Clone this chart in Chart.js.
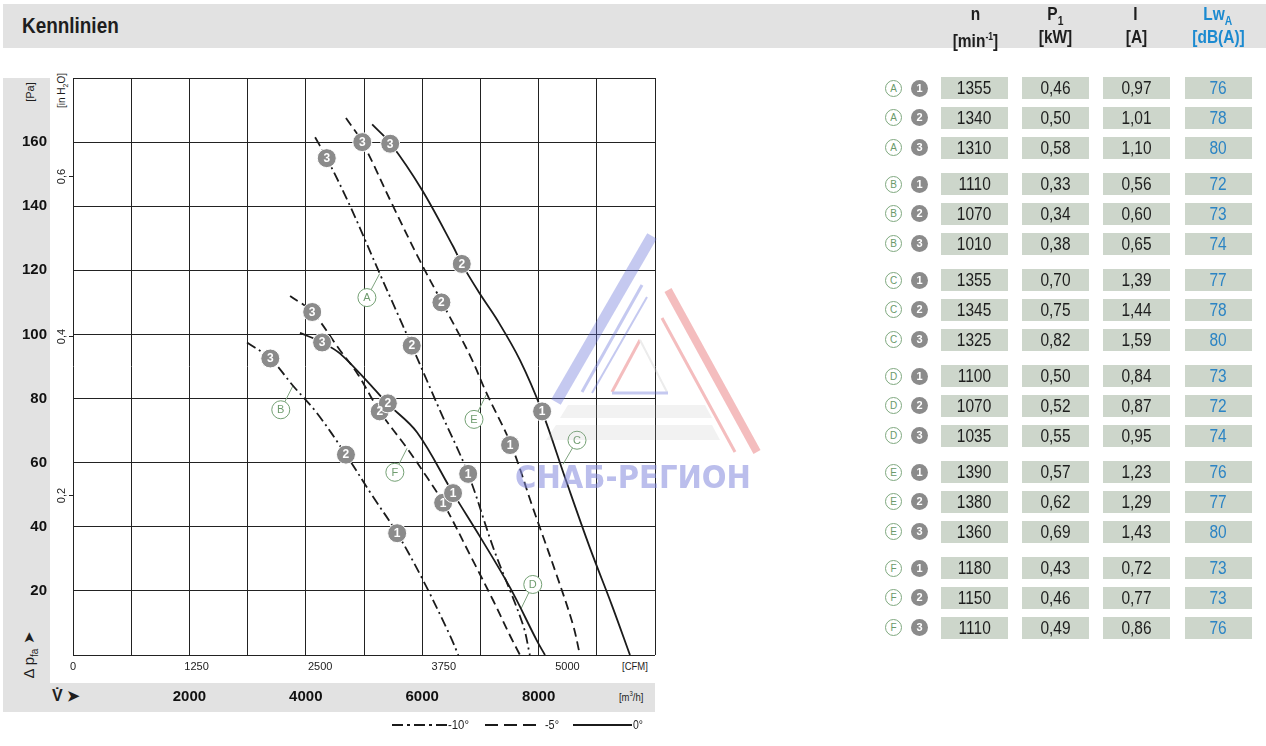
<!DOCTYPE html>
<html>
<head>
<meta charset="utf-8">
<script src="https://cdn.jsdelivr.net/npm/chart.js@4.4.1/dist/chart.umd.min.js"></script>
<style>
  body { margin: 0; width: 1266px; height: 746px; position: relative; overflow: hidden; background: #fff;
         font-family: "Liberation Sans", Arial, sans-serif; color: #1e1e1e; }
  .abs { position: absolute; }
  .band { background: #e2e2e2; }
  .rot { transform: rotate(-90deg); transform-origin: center; white-space: nowrap; }
  .nar { display: inline-block; transform: scaleX(0.86); transform-origin: center; }
  .hd { position: absolute; width: 80px; text-align: center; font-weight: bold; font-size: 18px; line-height: 20px; }
  .cell { position: absolute; width: 67px; height: 22px; line-height: 23px; background: #cdd6cb; text-align: center; font-size: 18px; }
  .lc { position: absolute; width: 15px; height: 15px; border: 1px solid #7fa87f; border-radius: 50%; color: #6a9a6a;
        font-size: 10px; line-height: 15px; text-align: center; background: #fff; }
  .nc { position: absolute; width: 17px; height: 17px; border-radius: 50%; background: #8b8b8b; color: #fff;
        font-size: 11px; font-weight: bold; line-height: 17px; text-align: center; }
  #chart { position: absolute; left: 0; top: 60px; }
</style>
</head>
<body>
<div class="abs band" style="left:3px;top:4px;width:1263px;height:44px"></div>
<div class="abs" style="left:22px;top:13px;font-size:22px;font-weight:bold"><span class="nar" style="transform-origin:left">Kennlinien</span></div>
<div class="abs band" style="left:3px;top:78px;width:47px;height:634px"></div>
<div class="abs band" style="left:3px;top:683px;width:652px;height:29px"></div>

<div class="abs rot" style="left:18px;top:86px;width:24px;font-size:11px;text-align:center">[Pa]</div>
<div class="abs rot" style="left:40px;top:84px;width:44px;font-size:10px;text-align:center">[in H<sub style="font-size:7px">2</sub>O]</div>
<div class="abs rot" style="left:4px;top:645px;width:52px;font-size:15px;text-align:center">&Delta; p<sub style="font-size:10px">fa</sub> &#x27A4;</div>
<div class="abs" style="left:52px;top:687px;font-size:16px;font-weight:bold">V&#x307; <span style="font-size:15px">&#x27A4;</span></div>
<div class="abs" style="left:620px;top:660px;font-size:11px"><span class="nar">[CFM]</span></div>
<div class="abs" style="left:617px;top:690px;font-size:11px"><span class="nar">[m<sup style="font-size:7px">3</sup>/h]</span></div>

<canvas id="chart" width="680" height="660"></canvas>

<svg class="abs" style="left:0;top:0" width="1266" height="746">
  <g opacity="0.36">
    <line x1="652" y1="236" x2="556" y2="402" stroke="#5f6bd6" stroke-width="11"/>
    <line x1="642" y1="285" x2="582" y2="392" stroke="#5f6bd6" stroke-width="3"/>
    <line x1="647" y1="297" x2="592" y2="393" stroke="#5f6bd6" stroke-width="2"/>
    <line x1="668" y1="290" x2="757" y2="452" stroke="#e0484c" stroke-width="8"/>
    <line x1="662" y1="318" x2="735" y2="452" stroke="#e0484c" stroke-width="3"/>
    <line x1="640" y1="340" x2="612" y2="392" stroke="#e0484c" stroke-width="3"/>
    <line x1="640" y1="340" x2="667" y2="392" stroke="#c9c9c9" stroke-width="2"/>
    <line x1="612" y1="393" x2="668" y2="393" stroke="#5f6bd6" stroke-width="3"/>
    <polygon points="568,405 705,405 712,418 560,418" fill="#b8b8b8" opacity="0.5"/>
    <polygon points="556,425 712,425 720,440 546,440" fill="#b8b8b8" opacity="0.5"/>
  </g>
  <text x="515" y="488" textLength="236" lengthAdjust="spacingAndGlyphs" font-family="DejaVu Sans" font-weight="bold"
        font-size="32" fill="#8389dc" opacity="0.55">СНАБ-РЕГИОН</text>
  <g stroke="#1b1b1b" stroke-width="2">
    <line x1="392" y1="725" x2="447" y2="725" stroke-dasharray="11,4,3,4"/>
    <line x1="485" y1="725" x2="542" y2="725" stroke-dasharray="13,6"/>
    <line x1="573" y1="725" x2="632" y2="725"/>
  </g>
  <g font-size="12" fill="#1e1e1e" font-family="Liberation Sans, Arial, sans-serif">
    <text x="448" y="729" textLength="21" lengthAdjust="spacingAndGlyphs">-10°</text>
    <text x="545" y="729" textLength="14" lengthAdjust="spacingAndGlyphs">-5°</text>
    <text x="633" y="729" textLength="10" lengthAdjust="spacingAndGlyphs">0°</text>
  </g>
</svg>

<div id="table"></div>

<script>
// axis ticks
const flowTicks = [2000, 4000, 6000, 8000];
const cfmTicks = [0, 1250, 2500, 3750, 5000];
const paTicks = [20, 40, 60, 80, 100, 120, 140, 160];
const inH2OTicks = [0.2, 0.4, 0.6];

// curves: volume flow [m3/h] and pressure [Pa]
// -10 deg (dash-dot)
const curveAFlow = [4160, 4360, 4750, 5270, 5820, 6300, 6790, 7230, 7730, 7850];
const curveAPa = [161.5, 155, 140.5, 119, 96.5, 76.5, 56.5, 33, 9.5, 0];
const curveBFlow = [2990, 3390, 3780, 4190, 4690, 5150, 5570, 6010, 6480, 6620];
const curveBPa = [97.5, 92.5, 84, 75.5, 62.5, 49.5, 38, 23.5, 6, 0];
// -5 deg (dashed)
const curveEFlow = [4690, 4970, 5500, 5960, 6340, 6820, 7110, 7530, 7900, 8280, 8590, 8710];
const curveEPa = [167.5, 160, 140, 123, 110, 93.5, 81.5, 65.5, 46, 26.5, 9.5, 0];
const curveFFlow = [3730, 4110, 4590, 4880, 5270, 5740, 6080, 6360, 6870, 7220, 7510, 7680];
const curveFPa = [112, 107, 95, 88, 76, 64.5, 55.5, 47.5, 29.5, 17, 6, 0];
// 0 deg (solid)
const curveCFlow = [5140, 5460, 6000, 6530, 6680, 6980, 7290, 7680, 8060, 8470, 8880, 9260, 9570];
const curveCPa = [165.5, 159.5, 145, 127.5, 122, 113, 104.5, 92, 76, 54.5, 33.5, 15.5, 0];
const curveDFlow = [3900, 4280, 4590, 5150, 5400, 5910, 6530, 6990, 7510, 7970, 8110];
const curveDPa = [100.5, 97.5, 94, 83.5, 78.5, 69.5, 50.5, 37, 21, 4.5, 0];

// operating points 1, 2, 3 on each curve
const pointNumbers = ['1', '2', '3'];
const pointsAFlow = [6790, 5820, 4360], pointsAPa = [56.5, 96.5, 155];
const pointsBFlow = [5570, 4690, 3390], pointsBPa = [38, 62.5, 92.5];
const pointsCFlow = [8060, 6680, 5450], pointsCPa = [76, 122, 159.5];
const pointsDFlow = [6530, 5410, 4280], pointsDPa = [50.5, 78.5, 97.5];
const pointsEFlow = [7510, 6330, 4970], pointsEPa = [65.5, 110, 160];
const pointsFFlow = [6360, 5270, 4110], pointsFPa = [47.5, 76, 107];

// curve letters and where their leader touches the curve
const curveLetters = ['A', 'B', 'C', 'D', 'E', 'F'];
const letterFlow = [5050, 3570, 8660, 7900, 6890, 5530];
const letterPa = [111.5, 76.5, 67, 22, 73.5, 57];
const leaderFlow = [5270, 3780, 8420, 7700, 7110, 5740];
const leaderPa = [119, 84, 59.5, 14.5, 81.5, 64.5];

// table
const speedN = [1355, 1340, 1310, 1110, 1070, 1010, 1355, 1345, 1325, 1100, 1070, 1035, 1390, 1380, 1360, 1180, 1150, 1110];
const powerP1 = ['0,46', '0,50', '0,58', '0,33', '0,34', '0,38', '0,70', '0,75', '0,82', '0,50', '0,52', '0,55', '0,57', '0,62', '0,69', '0,43', '0,46', '0,49'];
const currentI = ['0,97', '1,01', '1,10', '0,56', '0,60', '0,65', '1,39', '1,44', '1,59', '0,84', '0,87', '0,95', '1,23', '1,29', '1,43', '0,72', '0,77', '0,86'];
const soundLwA = [76, 78, 80, 72, 73, 74, 77, 78, 80, 73, 72, 74, 76, 77, 80, 73, 73, 76];

const PA_PER_INH2O = 249.089;
const M3H_TO_CFM = 0.588578;

function toXY(xs, ys) {
  return xs.map((x, i) => ({ x: x, y: ys[i] }));
}

// ---- table ----
let table = document.getElementById('table');
let html = '';
let heads = [['n', '[min<sup style="font-size:10px">-1</sup>]', 935],
  ['P<sub style="font-size:12px">1</sub>', '[kW]', 1015],
  ['I', '[A]', 1096],
  ['Lw<sub style="font-size:12px">A</sub>', '[dB(A)]', 1178]];
heads.forEach((h, i) => {
  let col = i === 3 ? 'color:#1b8ad0;' : '';
  html += `<div class="hd" style="left:${h[2]}px;top:4px;${col}"><span class="nar">${h[0]}</span></div>`;
  html += `<div class="hd" style="left:${h[2]}px;top:27px;${col}"><span class="nar">${h[1]}</span></div>`;
});
const cellLeft = [941, 1022, 1103, 1185];
for (let g = 0; g < 6; g++) {
  for (let r = 0; r < 3; r++) {
    let k = g * 3 + r;
    let cy = 88 + g * 96 + r * 29.8;
    html += `<div class="lc" style="left:885px;top:${cy - 8.5}px">${curveLetters[g]}</div>`;
    html += `<div class="nc" style="left:911px;top:${cy - 8.5}px">${pointNumbers[r]}</div>`;
    let vals = [speedN[k], powerP1[k], currentI[k], soundLwA[k]];
    vals.forEach((v, c) => {
      let col = c === 3 ? 'color:#2b84c4;' : '';
      html += `<div class="cell" style="left:${cellLeft[c]}px;top:${cy - 11}px;${col}"><span class="nar">${v}</span></div>`;
    });
  }
}
table.innerHTML = html;

// ---- chart ----
const lineColor = '#1b1b1b';
const dashDot = [10, 4, 2, 4];
const dashed = [9, 5];

function curve(xs, ys, dash) {
  return {
    data: toXY(xs, ys), showLine: true, pointRadius: 0, borderColor: lineColor,
    borderWidth: 1.8, borderDash: dash, tension: 0.35, order: 5
  };
}
function points(xs, ys) {
  return {
    data: toXY(xs, ys), pointRadius: 9.5, backgroundColor: '#8b8b8b', borderColor: '#fff',
    borderWidth: 1, texts: pointNumbers, textColor: '#fff', textFont: 'bold 12px "Liberation Sans", Arial, sans-serif', order: 0
  };
}

let datasets = [
  curve(curveAFlow, curveAPa, dashDot),
  curve(curveBFlow, curveBPa, dashDot),
  curve(curveEFlow, curveEPa, dashed),
  curve(curveFFlow, curveFPa, dashed),
  curve(curveCFlow, curveCPa, []),
  curve(curveDFlow, curveDPa, []),
  points(pointsAFlow, pointsAPa),
  points(pointsBFlow, pointsBPa),
  points(pointsCFlow, pointsCPa),
  points(pointsDFlow, pointsDPa),
  points(pointsEFlow, pointsEPa),
  points(pointsFFlow, pointsFPa),
];
for (let i = 0; i < curveLetters.length; i++) {
  datasets.push({
    data: [{ x: letterFlow[i], y: letterPa[i] }, { x: leaderFlow[i], y: leaderPa[i] }],
    showLine: true, pointRadius: 0, borderColor: '#7fa37f', borderWidth: 1, order: 6
  });
}
datasets.push({
  data: toXY(letterFlow, letterPa), pointRadius: 9, backgroundColor: '#fff', borderColor: '#73a073',
  borderWidth: 1, texts: curveLetters, textColor: '#6f9c6f', textFont: '11px "Liberation Sans", Arial, sans-serif', order: 0
});

const markerText = {
  id: 'markerText',
  afterDatasetsDraw(chart) {
    let ctx = chart.ctx;
    chart.data.datasets.forEach((ds, i) => {
      if (!ds.texts) return;
      let meta = chart.getDatasetMeta(i);
      meta.data.forEach((pt, j) => {
        ctx.save();
        ctx.fillStyle = ds.textColor;
        ctx.font = ds.textFont;
        ctx.textAlign = 'center';
        ctx.textBaseline = 'middle';
        ctx.fillText(ds.texts[j], pt.x, pt.y + 0.5);
        ctx.restore();
      });
    });
  }
};

// second pressure scale in inch water column
const inH2OAxis = {
  id: 'inH2OAxis',
  afterDraw(chart) {
    let ctx = chart.ctx;
    let y = chart.scales.y;
    let left = chart.chartArea.left;
    ctx.save();
    ctx.strokeStyle = '#222';
    ctx.fillStyle = '#222';
    ctx.lineWidth = 1;
    ctx.font = '11px "Liberation Sans", Arial, sans-serif';
    ctx.textAlign = 'center';
    ctx.textBaseline = 'middle';
    inH2OTicks.forEach(v => {
      let py = Math.round(y.getPixelForValue(v * PA_PER_INH2O)) + 0.5;
      ctx.beginPath();
      ctx.moveTo(left - 4, py);
      ctx.lineTo(left, py);
      ctx.stroke();
      ctx.save();
      ctx.translate(left - 11, py);
      ctx.rotate(-Math.PI / 2);
      ctx.fillText(String(v).replace('.', ','), 0, 0);
      ctx.restore();
    });
    ctx.restore();
  }
};

const tickFamily = '"Liberation Sans", Arial, sans-serif';

new Chart(document.getElementById('chart'), {
  type: 'scatter',
  data: { datasets: datasets },
  options: {
    responsive: false,
    animation: false,
    layout: { padding: { top: 18, right: 25, bottom: 9, left: 0 } },
    plugins: { legend: { display: false }, tooltip: { enabled: false } },
    scales: {
      x: {
        type: 'linear', position: 'bottom', weight: 2, min: 0, max: 10000,
        grid: { color: '#222', lineWidth: 1, drawTicks: false },
        border: { display: false },
        ticks: {
          stepSize: 1000, autoSkip: false, maxRotation: 0, padding: 5, color: '#111',
          font: { family: tickFamily, size: 15, weight: 'bold' },
          callback: v => flowTicks.includes(v) ? String(v) : ''
        },
        afterFit: s => { s.height = 28; }
      },
      cfm: {
        type: 'linear', position: 'bottom', weight: 1, min: 0, max: 10000 * M3H_TO_CFM,
        grid: { display: false, drawTicks: false },
        border: { display: false },
        ticks: {
          autoSkip: false, maxRotation: 0, padding: 5, color: '#222',
          font: { family: tickFamily, size: 11 },
          callback: v => String(v)
        },
        afterBuildTicks: s => { s.ticks = cfmTicks.map(v => ({ value: v })); },
        afterFit: s => { s.height = 28; }
      },
      y: {
        type: 'linear', position: 'left', min: 0, max: 180,
        grid: { color: '#222', lineWidth: 1, drawTicks: false },
        border: { display: false },
        ticks: {
          stepSize: 20, padding: 26, color: '#111',
          font: { family: tickFamily, size: 15, weight: 'bold' },
          callback: v => paTicks.includes(v) ? String(v) : ''
        },
        afterFit: s => { s.width = 73; s.paddingTop = 0; s.paddingBottom = 0; }
      }
    }
  },
  plugins: [markerText, inH2OAxis]
});
</script>
</body>
</html>
